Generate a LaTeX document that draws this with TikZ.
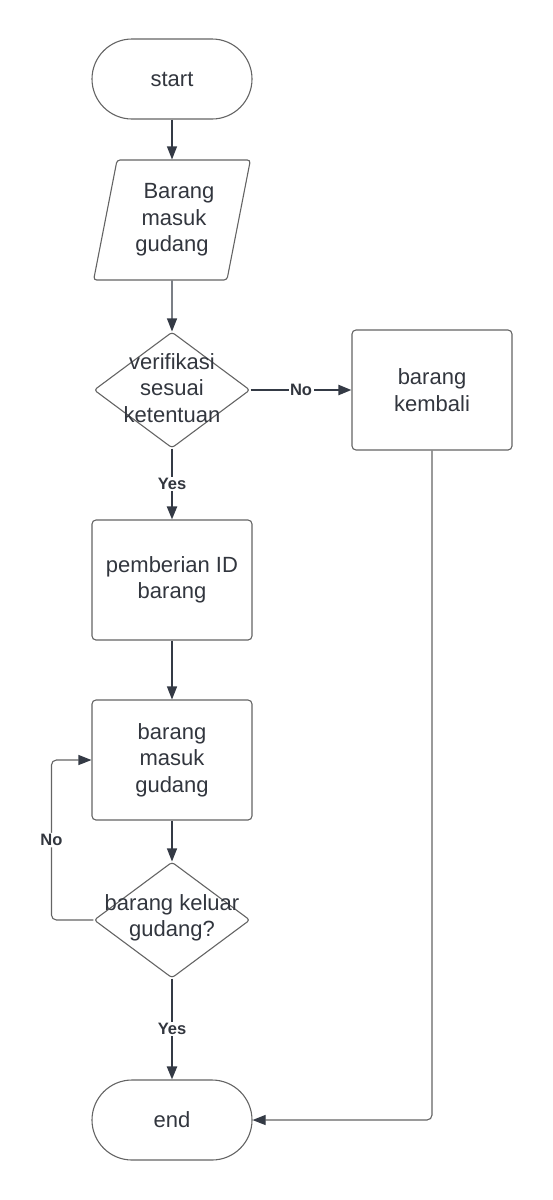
\documentclass[tikz,border=0pt]{standalone}
\usepackage{fontspec}
\setmainfont{Liberation Sans}
\usetikzlibrary{shapes.geometric,arrows.meta}
\definecolor{linegray}{RGB}{52,58,69}
\definecolor{boxgray}{RGB}{100,100,100}
\definecolor{textgray}{RGB}{50,54,62}

\begin{document}
\begin{tikzpicture}[x=1pt,y=-1pt,
  txt/.style={font=\fontsize{22}{26.5}\selectfont,text=textgray,align=center,inner sep=0pt},
  terminal/.style={txt,draw=boxgray,line width=1.1pt,rectangle,rounded corners=40pt,
    minimum width=160pt,minimum height=80pt},
  iobox/.style={txt,draw=boxgray,line width=1.1pt,trapezium,trapezium left angle=76,
    trapezium right angle=104,trapezium stretches=true,minimum width=157pt,
    minimum height=120pt,rounded corners=3pt},
  process/.style={txt,draw=boxgray,line width=1.1pt,rectangle,rounded corners=4pt,
    minimum width=160pt,minimum height=120pt},
  decision/.style={draw=boxgray,line width=1.1pt,diamond,inner sep=0pt,
    minimum width=156pt,minimum height=116pt,rounded corners=3pt},
  answer/.style={font=\fontsize{16.5}{18}\selectfont\bfseries,text=textgray,
    fill=white,inner sep=1.5pt},
  flow/.style={draw=linegray,line width=1.2pt,-{Triangle[length=13pt,width=10pt]}},
  thickflow/.style={flow,line width=2.2pt},
  backflow/.style={draw=boxgray,line width=1.1pt,rounded corners=5pt,
    -{Triangle[length=13pt,width=10pt,color=linegray]}}]
\useasboundingbox (0,0) rectangle (552,1200);

\node[terminal] (start) at (172,79) {start};
\node[iobox] (input) at (172,220) {\hspace{14pt}Barang\\\hspace{4pt}masuk\\gudang\hspace{4pt}};
\node[decision] (verif) at (172,390) {};
\node[txt] (veriftxt) at (172,388) {verifikasi\\sesuai\\ketentuan};
\node[process] (kembali) at (432,390) {barang\\kembali};
\node[process] (idbrg) at (172,580) {pemberian ID\\barang};
\node[process] (masuk) at (172,760) {barang\\masuk\\gudang};
\node[decision] (keluar) at (172,920) {};
\node[txt] (keluartxt) at (172,918) {barang keluar\\gudang?};
\node[terminal] (end) at (172,1120) {end};

\draw[flow] (start) -- (input);
\draw[flow] (input) -- (verif);
\draw[thickflow] (verif) -- node[answer] {No} (kembali);
\draw[thickflow] (verif) -- node[answer] {Yes} (idbrg);
\draw[flow] (idbrg) -- (masuk);
\draw[flow] (masuk) -- (keluar);
\draw[backflow] (keluar.west) -- ++(-42,0) |- node[answer,pos=0.25] {No} (masuk.west);
\draw[thickflow] (keluar) -- node[answer] {Yes} (end);
\draw[backflow] (kembali.south) |- (end.east);
\end{tikzpicture}
\end{document}
